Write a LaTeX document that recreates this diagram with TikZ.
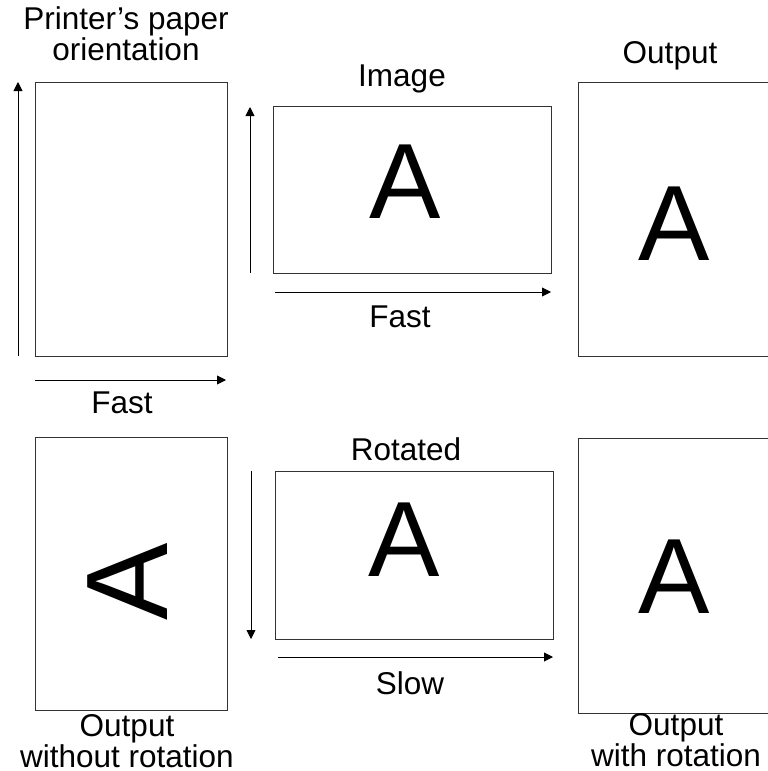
\documentclass[tikz,border=0pt]{standalone}
\usepackage{fontspec}
\setmainfont{Liberation Sans}
\usetikzlibrary{arrows.meta,calc}
\begin{document}
\begin{tikzpicture}[x=1pt,y=-1pt,
  page/.style={draw=black!80,line width=0.9pt,inner sep=0pt,outer sep=0pt,anchor=north west},
  dirarrow/.style={draw=black,line width=0.9pt,-{Triangle[length=9pt,width=9pt]}},
  lbl/.style={font=\fontsize{31.5}{29}\selectfont,align=center,inner sep=0pt,anchor=base},
  lbltight/.style={lbl,font=\fontsize{31.5}{26}\selectfont},
  bigA/.style={font=\fontsize{107}{107}\selectfont,inner sep=0pt}]
\useasboundingbox (0,0) rectangle (768,771);
\clip (0,0) rectangle (768,771);
% top row
\node[page,minimum width=192pt,minimum height=274pt] (paper) at (35,82) {};
\node[page,minimum width=278pt,minimum height=167pt] (image) at (273,106) {};
\node[page,minimum width=192pt,minimum height=274pt] (out1) at (578,82) {};
% bottom row
\node[page,minimum width=192pt,minimum height=273pt] (out0) at (35,437) {};
\node[page,minimum width=278pt,minimum height=168pt] (rot) at (275,471) {};
\node[page,minimum width=192pt,minimum height=275pt] (out2) at (578,438) {};
% letters
\node[bigA] (aimg) at (405,181.5) {A};
\node[bigA] (aout1) at (674,223.5) {A};
\node[bigA] (arot) at (404,540) {A};
\node[bigA] (aout2) at (674,576.5) {A};
\node[bigA,font=\fontsize{116}{116}\selectfont,rotate=90] (aout0) at (128,582) {A};
% labels
\node[lbl] (tpaper) at (126,60) {Printer's paper\\orientation};
\node[lbl] (timage) at (402,86) {Image};
\node[lbl] (tout1) at (670,63) {Output};
\node[lbl] (tfast1) at (122,413) {Fast};
\node[lbl] (tfast2) at (400,327) {Fast};
\node[lbl] (trot) at (406,460) {Rotated};
\node[lbl] (tslow) at (410,694) {Slow};
\node[lbltight] (tout0) at (127,767) {Output\\without rotation};
\node[lbltight] (tout2) at (676,766) {Output\\with rotation};
% arrow coordinates
\coordinate (pv0) at (18,356); \coordinate (pv1) at (18,82);
\coordinate (ph0) at (35,380); \coordinate (ph1) at (226,380);
\coordinate (iv0) at (250,273); \coordinate (iv1) at (250,107);
\coordinate (ih0) at (275,292); \coordinate (ih1) at (551,292);
\coordinate (rv0) at (251,471); \coordinate (rv1) at (251,639);
\coordinate (rh0) at (278,657); \coordinate (rh1) at (553,657);
\draw[dirarrow] (pv0) -- (pv1);
\draw[dirarrow] (ph0) -- (ph1);
\draw[dirarrow] (iv0) -- (iv1);
\draw[dirarrow] (ih0) -- (ih1);
\draw[dirarrow] (rv0) -- (rv1);
\draw[dirarrow] (rh0) -- (rh1);
\end{tikzpicture}
\end{document}
